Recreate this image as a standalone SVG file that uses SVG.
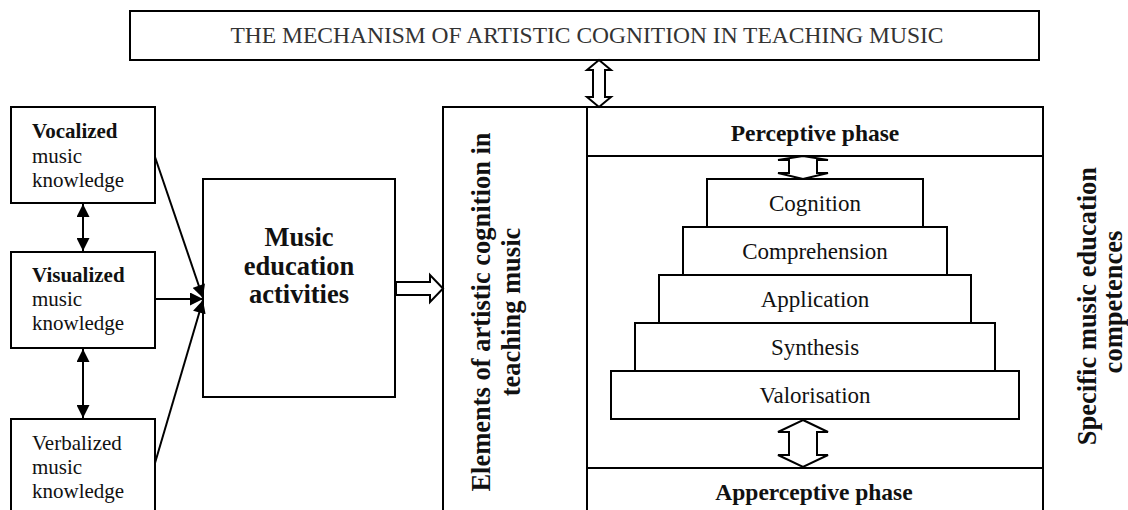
<svg xmlns="http://www.w3.org/2000/svg" width="1128" height="510" viewBox="0 0 1128 510">
<defs>
<marker id="ah" viewBox="0 0 10 10" refX="10" refY="5" markerWidth="15" markerHeight="13" markerUnits="userSpaceOnUse" orient="auto-start-reverse">
<path d="M0,0 L10,5 L0,10 z" fill="#000"/>
</marker>
<style>
.box{fill:#fff;stroke:#000;stroke-width:2}
.ln{stroke:#000;stroke-width:2;fill:none}
.hollow{fill:#fff;stroke:#000;stroke-width:2;stroke-linejoin:miter}
.t{font-family:"Liberation Serif","Times New Roman",serif;fill:#111}
.r{font-size:21px}
.b{font-weight:bold}
.p{font-size:23px;text-anchor:middle}
.ph{font-size:23.5px;font-weight:bold;text-anchor:middle}
.v{font-size:26.5px;font-weight:bold;text-anchor:middle}
</style>
</defs>
<rect width="1128" height="510" fill="#fff"/>

<g id="title">
<rect class="box" x="130" y="11" width="909" height="49"/>
<text class="t" x="587" y="43" font-size="23.5" text-anchor="middle" fill="#333" style="fill:#333">THE MECHANISM OF ARTISTIC COGNITION IN TEACHING MUSIC</text>
</g>

<g id="vocalized">
<rect class="box" x="11" y="107" width="144" height="96"/>
<text class="t r" x="32" y="138"><tspan class="b">Vocalized</tspan></text>
<text class="t r" x="32" y="163">music</text>
<text class="t r" x="32" y="187">knowledge</text>
</g>

<g id="visualized">
<rect class="box" x="11" y="252" width="144" height="96"/>
<text class="t r" x="32" y="282"><tspan class="b">Visualized</tspan></text>
<text class="t r" x="32" y="306">music</text>
<text class="t r" x="32" y="330">knowledge</text>
</g>

<g id="verbalized">
<rect class="box" x="11" y="419" width="144" height="100"/>
<text class="t r" x="32" y="450">Verbalized</text>
<text class="t r" x="32" y="474">music</text>
<text class="t r" x="32" y="498">knowledge</text>
</g>

<g id="activities">
<rect class="box" x="203" y="179" width="192" height="218"/>
<text class="t v" x="299" y="246">Music</text>
<text class="t v" x="299" y="275">education</text>
<text class="t v" x="299" y="303">activities</text>
</g>

<g id="structure">
<path class="ln" d="M443,510 V107 H1043 V510 M587,107 V510 M587,156 H1043 M587,468 H1043"/>
</g>

<g id="elements">
<text class="t v" transform="translate(490,312) rotate(-90)">Elements of artistic cognition in</text>
<text class="t v" transform="translate(520,312) rotate(-90)">teaching music</text>
</g>

<g id="perceptive">
<text class="t ph" x="815" y="141">Perceptive phase</text>
</g>

<g id="apperceptive">
<text class="t ph" x="814" y="500">Apperceptive phase</text>
</g>

<g id="cognition">
<rect class="box" x="707" y="179" width="216" height="48"/>
<text class="t p" x="815" y="211">Cognition</text>
</g>
<g id="comprehension">
<rect class="box" x="683" y="227" width="264" height="48"/>
<text class="t p" x="815" y="259">Comprehension</text>
</g>
<g id="application">
<rect class="box" x="659" y="275" width="312" height="48"/>
<text class="t p" x="815" y="307">Application</text>
</g>
<g id="synthesis">
<rect class="box" x="635" y="323" width="360" height="48"/>
<text class="t p" x="815" y="355">Synthesis</text>
</g>
<g id="valorisation">
<rect class="box" x="611" y="371" width="408" height="48"/>
<text class="t p" x="815" y="403">Valorisation</text>
</g>

<g id="competences">
<text class="t v" transform="translate(1096,306) rotate(-90)">Specific music education</text>
<text class="t v" transform="translate(1122,302) rotate(-90)">competences</text>
</g>

<g id="connectors">
<line class="ln" x1="83" y1="204" x2="83" y2="251" marker-start="url(#ah)" marker-end="url(#ah)"/>
<line class="ln" x1="83" y1="349" x2="83" y2="418" marker-start="url(#ah)" marker-end="url(#ah)"/>
<line class="ln" x1="155" y1="157" x2="203" y2="298" marker-end="url(#ah)"/>
<line class="ln" x1="155" y1="299" x2="203" y2="299" marker-end="url(#ah)"/>
<line class="ln" x1="155" y1="463" x2="203" y2="300" marker-end="url(#ah)"/>
<polygon class="hollow" points="396,282 430,282 430,275 443,288.5 430,302 430,295 396,295"/>
<polygon class="hollow" points="599,60 611,70 605,70 605,97 611,97 599,107 587,97 593,97 593,70 587,70"/>
<polygon class="hollow" points="803,156 828,160 817,160 817,173 828,173 803,179 778,173 789,173 789,160 778,160"/>
<polygon class="hollow" points="803,420 828,432 817,432 817,455 828,455 803,467 778,455 789,455 789,432 778,432"/>
</g>
</svg>
